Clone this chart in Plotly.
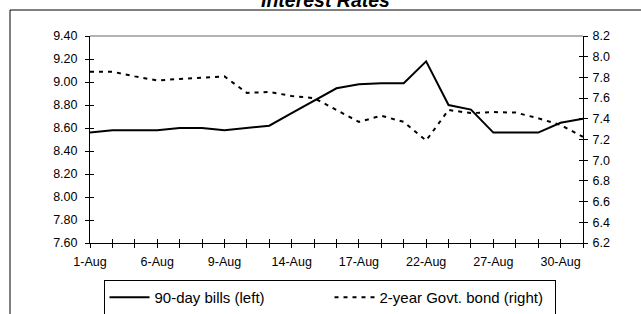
import plotly.graph_objects as go

# ---- data ----
dates = ["1-Aug", "2-Aug", "3-Aug", "6-Aug", "7-Aug", "8-Aug", "9-Aug", "10-Aug",
         "13-Aug", "14-Aug", "15-Aug", "16-Aug", "17-Aug", "20-Aug", "21-Aug",
         "22-Aug", "23-Aug", "24-Aug", "27-Aug", "28-Aug", "29-Aug", "30-Aug", "31-Aug"]
bills_90day = [8.56, 8.58, 8.58, 8.58, 8.60, 8.60, 8.58, 8.60, 8.62, 8.73, 8.84,
               8.945, 8.98, 8.99, 8.99, 9.18, 8.80, 8.76, 8.56, 8.56, 8.56, 8.645, 8.68]
bond_2yr = [7.855, 7.855, 7.81, 7.77, 7.785, 7.80, 7.81, 7.65, 7.66, 7.62, 7.60,
            7.485, 7.37, 7.43, 7.37, 7.19, 7.485, 7.455, 7.465, 7.46, 7.405, 7.34, 7.225]
tick_labels = [d if i % 3 == 0 else "" for i, d in enumerate(dates)]
left_range = [7.6, 9.4]
right_range = [6.2, 8.2]

W, H = 641, 314
L, R, T, B = 90, 58, 36, 71
pw, ph = W - L - R, H - T - B

def px_x(p):
    return (p - L) / pw

def px_y(p):
    return (H - B - p) / ph

FONT = "Liberation Sans, Arial, sans-serif"

fig = go.Figure()
fig.add_trace(go.Scatter(x=dates, y=bills_90day, mode="lines", name="90-day bills (left)",
                         line=dict(color="black", width=2), yaxis="y"))
fig.add_trace(go.Scatter(x=dates, y=bond_2yr, mode="lines", name="2-year Govt. bond (right)",
                         line=dict(color="black", width=2, dash="4px,5px"), yaxis="y2"))
# helper traces so the inner-tick overlay axes are drawn
fig.add_trace(go.Scatter(x=dates, y=[None] * len(dates), xaxis="x3", yaxis="y",
                         showlegend=False, hoverinfo="skip"))
fig.add_trace(go.Scatter(x=dates, y=[None] * len(dates), yaxis="y3",
                         showlegend=False, hoverinfo="skip"))
fig.add_trace(go.Scatter(x=dates, y=[None] * len(dates), yaxis="y4",
                         showlegend=False, hoverinfo="skip"))

common_x = dict(type="category", categoryorder="array", categoryarray=dates,
                range=[0, len(dates) - 1], showgrid=False, zeroline=False)
fig.update_layout(
    width=W, height=H,
    margin=dict(l=L, r=R, t=T, b=B, pad=0, autoexpand=False),
    paper_bgcolor="white", plot_bgcolor="white",
    font=dict(family=FONT, size=12, color="black"),
    xaxis=dict(**common_x, tickmode="array", tickvals=dates, ticktext=tick_labels,
               ticks="outside", ticklen=4, tickcolor="black", showline=True,
               linecolor="black", linewidth=1, tickfont=dict(size=12.5),
               ticklabelstandoff=3),
    xaxis3=dict(**common_x, overlaying="x", anchor="y", tickmode="array", tickvals=dates,
                ticks="inside", ticklen=4, tickcolor="black", showticklabels=False,
                showline=False),
    yaxis=dict(range=left_range, dtick=0.2, tick0=7.6, tickformat=".2f", ticks="outside",
               ticklen=4, tickcolor="black", showline=True, linecolor="black", linewidth=1,
               showgrid=False, zeroline=False, tickfont=dict(size=12.5),
               ticklabelstandoff=5),
    yaxis2=dict(range=right_range, dtick=0.2, tick0=6.2, tickformat=".1f", ticks="outside",
                ticklen=4, tickcolor="black", showline=True, linecolor="black", linewidth=1,
                showgrid=False, zeroline=False, overlaying="y", side="right", anchor="x",
                tickfont=dict(size=12.5), ticklabelstandoff=2),
    yaxis3=dict(range=left_range, dtick=0.2, tick0=7.6, ticks="inside", ticklen=4,
                tickcolor="black", showticklabels=False, showline=False, showgrid=False,
                zeroline=False, overlaying="y", side="left", anchor="x"),
    yaxis4=dict(range=right_range, dtick=0.2, tick0=6.2, ticks="inside", ticklen=4,
                tickcolor="black", showticklabels=False, showline=False, showgrid=False,
                zeroline=False, overlaying="y", side="right", anchor="x"),
    legend=dict(orientation="h", x=px_x(329.5), xanchor="center", y=px_y(280),
                yanchor="top", bordercolor="black", borderwidth=1, bgcolor="white",
                font=dict(size=15, family=FONT), itemwidth=40, entrywidth=170,
                entrywidthmode="pixels"),
    showlegend=True,
    shapes=[
        # chart frame (extends beyond the visible image on the right and bottom)
        dict(type="rect", xref="paper", yref="paper", x0=px_x(10), x1=px_x(700),
             y0=px_y(360), y1=px_y(10), line=dict(color="black", width=1),
             fillcolor="rgba(0,0,0,0)", layer="below"),
        # grey top border of plot area
        dict(type="line", xref="paper", yref="paper", x0=0, x1=1, y0=1, y1=1,
             line=dict(color="#9a9a9a", width=1.5)),
    ],
    annotations=[
        dict(text="<b><i>Interest Rates</i></b>", xref="paper", yref="paper",
             x=px_x(325), y=px_y(-0.5), xanchor="center", yanchor="middle",
             showarrow=False, font=dict(size=19.5, family=FONT, color="black")),
    ],
)

fig.write_html("out.html", config={"displayModeBar": False},
               post_script="document.body.style.margin='0px';")
